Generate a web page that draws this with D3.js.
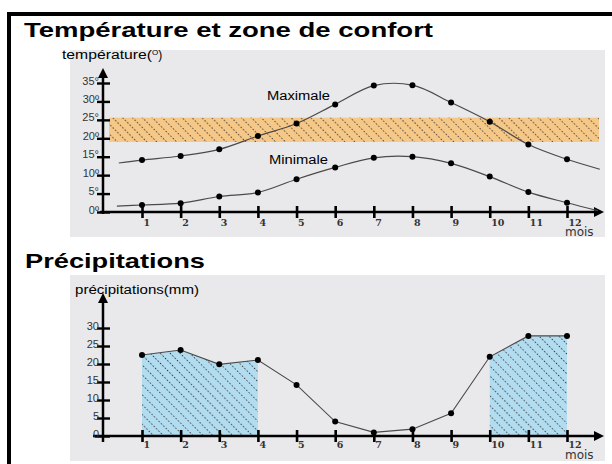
<!DOCTYPE html>
<html>
<head>
<meta charset="utf-8">
<script src="https://cdn.jsdelivr.net/npm/d3@7"></script>
<style>
  body { margin: 0; background: #fff; }
  svg { display: block; }
</style>
</head>
<body>
<svg id="chart" width="612" height="464"></svg>
<script>
// months on the x axis
const months = [1, 2, 3, 4, 5, 6, 7, 8, 9, 10, 11, 12];

// temperatures (degrees)
const maxTemp = [14.1, 15.2, 17.0, 20.6, 24.0, 29.2, 34.3, 34.4, 29.7, 24.5, 18.3, 14.3];
const minTemp = [1.9, 2.4, 4.2, 5.3, 8.9, 12.1, 14.7, 15.0, 13.2, 9.6, 5.4, 2.5];
// where the curves start / stop beyond the first and last month
const maxEdges = [[0.4, 13.3], [12.85, 11.6]];
const minEdges = [[0.35, 1.6], [12.8, 0.35]];
// comfort zone (degrees)
const comfortZone = [19, 25.6];

const tempTicks = [0, 5, 10, 15, 20, 25, 30, 35];
const tempTickLabels = ["0º", "5°", "10º", "15°", "20º", "25°", "30º", "35°"];

// precipitations (mm)
const precip = [22.5, 23.9, 19.9, 21.1, 14.2, 4.0, 1.0, 1.9, 6.3, 22.0, 27.8, 27.8];
const wetPeriods = [[1, 4], [10, 12]];
const precipTicks = [0, 5, 10, 15, 20, 25, 30];

const svg = d3.select("#chart");
const font = "'Liberation Sans', Arial, sans-serif";

// hatch patterns
const defs = svg.append("defs");
function hatch(id, fill){
    const p = defs.append("pattern")
        .attr("id", id)
        .attr("patternUnits", "userSpaceOnUse")
        .attr("width", 10).attr("height", 7)
        .attr("patternTransform", "rotate(45)");
    p.append("rect").attr("width", 10).attr("height", 7).attr("fill", fill);
    p.append("line")
        .attr("x1", 0).attr("x2", 10).attr("y1", 3.5).attr("y2", 3.5)
        .attr("stroke", "#2a2a2a").attr("stroke-width", 1.2)
        .attr("stroke-dasharray", "1.2,2.1");
}
hatch("hatchOrange", "#f6c888");
hatch("hatchBlue", "#b2dcef");

// arrow marker
defs.append("marker")
    .attr("id", "arrow")
    .attr("viewBox", "0 0 10 10")
    .attr("refX", 2).attr("refY", 5)
    .attr("markerWidth", 4).attr("markerHeight", 4)
    .attr("orient", "auto")
  .append("path")
    .attr("d", "M0,0 L10,5 L0,10 z")
    .attr("fill", "#000");

// outer frame
svg.append("path")
    .attr("d", "M9,464 L9,14 L620,14")
    .attr("fill", "none").attr("stroke", "#000").attr("stroke-width", 4);

// titles (the picture is a bit stretched horizontally, hence textLength)
svg.append("text").attr("x", 24).attr("y", 37)
    .attr("font-family", font).attr("font-weight", "bold").attr("font-size", 20.5)
    .attr("textLength", 409).attr("lengthAdjust", "spacingAndGlyphs")
    .text("Température et zone de confort");
svg.append("text").attr("x", 25).attr("y", 268)
    .attr("font-family", font).attr("font-weight", "bold").attr("font-size", 21)
    .attr("textLength", 180).attr("lengthAdjust", "spacingAndGlyphs")
    .text("Précipitations");

// panel backgrounds
svg.append("rect").attr("x", 70).attr("y", 50).attr("width", 535).attr("height", 187).attr("fill", "#e9e9eb");
svg.append("rect").attr("x", 70).attr("y", 275).attr("width", 535).attr("height", 186).attr("fill", "#e9e9eb");

const x = d3.scaleLinear().domain([1, 12]).range([142, 567]);

function drawXAxis(g, y0, xStart, labelDy, moisDy){
    // axis line with arrow
    g.append("line")
        .attr("x1", xStart).attr("x2", 596)
        .attr("y1", y0).attr("y2", y0)
        .attr("stroke", "#000").attr("stroke-width", 2.5)
        .attr("marker-end", "url(#arrow)");
    const ax = g.append("g").attr("transform", `translate(0,${y0})`)
        .call(d3.axisBottom(x).tickValues(months).tickSize(6).tickPadding(0).tickFormat(d3.format("d")));
    ax.select(".domain").remove();
    ax.selectAll(".tick line").attr("y1", -6).attr("y2", 6).attr("stroke-width", 2.6);
    ax.selectAll(".tick text")
        .attr("font-family", "'DejaVu Serif', serif").attr("font-weight", "bold").attr("font-size", 9.5)
        .attr("fill", "#333").attr("text-anchor", "start")
        .attr("x", 1).attr("y", labelDy).attr("dy", 0);
    g.append("text").attr("x", 565).attr("y", y0 + moisDy)
        .attr("font-family", "'DejaVu Sans', sans-serif").attr("font-size", 12).attr("fill", "#333")
        .text("mois");
}

function drawYAxis(g, y, ticks, labels, yTop, yBottom){
    g.append("line")
        .attr("x1", 103).attr("x2", 103)
        .attr("y1", yBottom).attr("y2", yTop + 4)
        .attr("stroke", "#000").attr("stroke-width", 2.5)
        .attr("marker-end", "url(#arrow)");
    const ax = g.append("g").attr("transform", "translate(103,0)")
        .call(d3.axisLeft(y).tickValues(ticks).tickSize(6).tickFormat((d, i) => labels[i]));
    ax.select(".domain").remove();
    ax.selectAll(".tick line").attr("x1", -6).attr("x2", 7).attr("stroke-width", 2.4);
    ax.selectAll(".tick text")
        .attr("font-family", font).attr("font-size", 11).attr("fill", "#333")
        .attr("x", -4).attr("dy", "0.1em");
}

// ---------- temperature chart ----------
const yT = d3.scaleLinear().domain([0, 35]).range([212, 83]);
const tempG = svg.append("g");

tempG.append("rect")
    .attr("x", 109).attr("width", 490)
    .attr("y", yT(comfortZone[1])).attr("height", yT(comfortZone[0]) - yT(comfortZone[1]))
    .attr("fill", "url(#hatchOrange)");

const tLabel = tempG.append("text").attr("x", 62).attr("y", 59)
    .attr("font-family", font).attr("font-size", 12);
tLabel.append("tspan")
    .attr("textLength", 90).attr("lengthAdjust", "spacingAndGlyphs").text("température(");
tLabel.append("tspan").attr("font-size", 8).attr("dy", -4).text("O");
tLabel.append("tspan").attr("dy", 4).text(")");

drawXAxis(tempG, 212, 100, 14, 24);
drawYAxis(tempG, yT, tempTicks, tempTickLabels, 72, 214);

const tempLine = d3.line()
    .x(d => x(d[0])).y(d => yT(d[1]))
    .curve(d3.curveCatmullRom.alpha(0.5));

[[maxTemp, maxEdges], [minTemp, minEdges]].forEach(([vals, edges]) => {
    const pts = [edges[0]].concat(months.map((m, i) => [m, vals[i]]), [edges[1]]);
    tempG.append("path").attr("d", tempLine(pts))
        .attr("fill", "none").attr("stroke", "#4a4a4a").attr("stroke-width", 1.2);
    tempG.selectAll(null).data(vals).enter().append("circle")
        .attr("cx", (d, i) => x(months[i])).attr("cy", d => yT(d))
        .attr("r", 3).attr("fill", "#000");
});

tempG.append("text").attr("x", 267).attr("y", 100)
    .attr("font-family", font).attr("font-size", 12.5)
    .attr("textLength", 63).attr("lengthAdjust", "spacingAndGlyphs").text("Maximale");
tempG.append("text").attr("x", 269).attr("y", 164)
    .attr("font-family", font).attr("font-size", 12.5)
    .attr("textLength", 59).attr("lengthAdjust", "spacingAndGlyphs").text("Minimale");

// ---------- precipitation chart ----------
const yP = d3.scaleLinear().domain([0, 30]).range([436, 328]);
const precipG = svg.append("g");

const area = d3.area().x(d => x(d[0])).y0(yP(0)).y1(d => yP(d[1]));
wetPeriods.forEach(([a, b]) => {
    const pts = months.filter(m => m >= a && m <= b).map(m => [m, precip[m - 1]]);
    precipG.append("path").attr("d", area(pts)).attr("fill", "url(#hatchBlue)");
});

precipG.append("text").attr("x", 75).attr("y", 294)
    .attr("font-family", font).attr("font-size", 12)
    .attr("textLength", 124).attr("lengthAdjust", "spacingAndGlyphs").text("précipitations(mm)");

drawXAxis(precipG, 436, 93, 12, 23);
drawYAxis(precipG, yP, precipTicks, precipTicks.map(String), 297, 442);

const precipLine = d3.line().x((d, i) => x(months[i])).y(d => yP(d));
precipG.append("path").attr("d", precipLine(precip))
    .attr("fill", "none").attr("stroke", "#4a4a4a").attr("stroke-width", 1.1);
precipG.selectAll(null).data(precip).enter().append("circle")
    .attr("cx", (d, i) => x(months[i])).attr("cy", d => yP(d))
    .attr("r", 3).attr("fill", "#000");
</script>
</body>
</html>
